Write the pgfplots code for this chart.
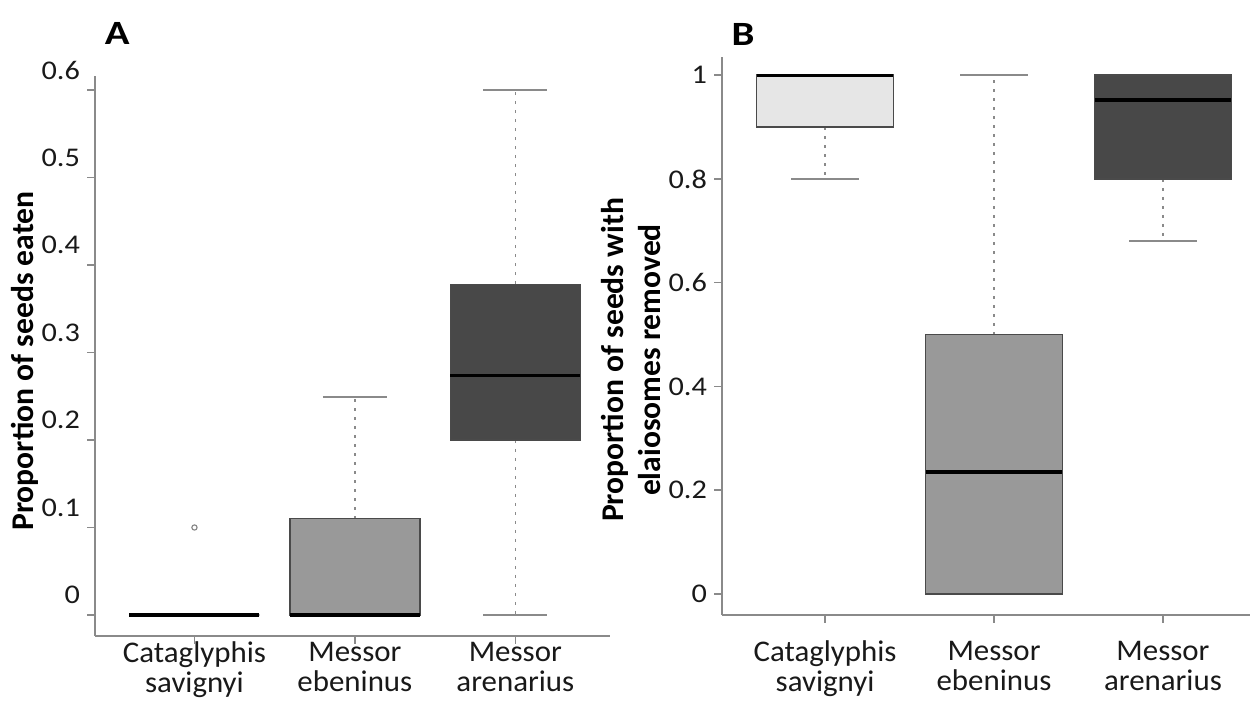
\documentclass[border=0pt]{standalone}
\usepackage{fontspec}
\setmainfont{Carlito}
\newfontfamily\tickfont{Carlito}[FakeStretch=1.12]
\newfontfamily\catfont{Carlito}[FakeStretch=1.03]
\newfontfamily\titlefont{Carlito}[FakeStretch=1.2]
\usepackage{pgfplots}
\pgfplotsset{compat=1.18}
\usepgfplotslibrary{statistics}

\definecolor{axgray}{HTML}{8A8A8A}
\definecolor{boxedge}{HTML}{4A4A4A}
\definecolor{lightfill}{HTML}{E6E6E6}
\definecolor{midfill}{HTML}{999999}
\definecolor{darkfill}{HTML}{484848}

\pgfplotsset{
  mybox/.style={
    boxplot/draw direction=y,
    boxplot/box extend=0.81,
    boxplot/whisker extend=0.40,
    boxplot/every box/.style={draw=boxedge, line width=0.7pt, fill=#1},
    boxplot/every median/.style={black, line width=1.6pt},
    boxplot/draw/lower whisker/.code={%
      \draw[axgray, line width=0.8pt, dash pattern=on 1.5pt off 3pt]
        (boxplot box cs:\pgfplotsboxplotvalue{lower quartile},0.5)
        -- (boxplot box cs:\pgfplotsboxplotvalue{lower whisker},0.5);
      \draw[axgray, line width=0.9pt]
        (boxplot whisker cs:\pgfplotsboxplotvalue{lower whisker},0)
        -- (boxplot whisker cs:\pgfplotsboxplotvalue{lower whisker},1);
    },
    boxplot/draw/upper whisker/.code={%
      \draw[axgray, line width=0.8pt, dash pattern=on 1.5pt off 3pt]
        (boxplot box cs:\pgfplotsboxplotvalue{upper quartile},0.5)
        -- (boxplot box cs:\pgfplotsboxplotvalue{upper whisker},0.5);
      \draw[axgray, line width=0.9pt]
        (boxplot whisker cs:\pgfplotsboxplotvalue{upper whisker},0)
        -- (boxplot whisker cs:\pgfplotsboxplotvalue{upper whisker},1);
    },
    mark=o, mark size=1.3pt, mark options={draw=axgray, line width=0.6pt, solid},
  },
  panel/.style={
    scale only axis,
    axis x line=bottom, axis y line=left,
    axis line style={-, axgray, line width=1pt},
    tick style={axgray, line width=0.8pt},
    tick align=outside,
    major tick length=4pt,
    xtick={1,2,3},
    xticklabels={{Cataglyphis\\savignyi},{Messor\\ebeninus},{Messor\\arenarius}},
    xticklabel style={align=center, font=\catfont\fontsize{15}{15}\selectfont, text=black!90},
    yticklabel style={font=\tickfont\fontsize{13.5}{15}\selectfont, text=black!90},
    /pgf/number format/assume math mode=true,
    /pgf/number format/fixed,
    ylabel style={font=\bfseries\fontsize{15.8}{18.3}\selectfont, rotate=0},
    title style={font=\titlefont\bfseries\fontsize{17}{20}\selectfont, anchor=center, yshift=0pt},
    clip=false,
  },
}

\begin{document}
\begin{tikzpicture}
\useasboundingbox (0,0) rectangle (627.5pt,351pt);

% ---------------- Panel A ----------------
\begin{axis}[panel,
  at={(47.5pt,33pt)}, anchor=south west,
  width=257.5pt, height=280pt,
  xmin=0.38, xmax=3.59,
  ymin=-0.024, ymax=0.616,
  ytick={0,0.1,0.2,0.3,0.4,0.5,0.6},
  yticklabel style={yshift=10pt},
  xticklabel style={yshift=4.5pt},
  ylabel={Proportion of seeds eaten},
  ylabel style={at={(axis description cs:-0.136,0.491)}, anchor=center},
  title={A},
  title style={at={(axis description cs:0.043,1.054)}},
]
\addplot[mybox=white, boxplot prepared={draw position=1,
  lower whisker=0, lower quartile=0, median=0, upper quartile=0, upper whisker=0}]
  coordinates {(0,0.1)};
\addplot[mybox=midfill, boxplot prepared={draw position=2,
  lower whisker=0, lower quartile=0, median=0, upper quartile=0.11, upper whisker=0.249}]
  coordinates {};
\addplot[mybox=darkfill, boxplot prepared={draw position=3,
  lower whisker=0, lower quartile=0.2, median=0.274, upper quartile=0.378, upper whisker=0.6}]
  coordinates {};
\end{axis}

% ---------------- Panel B ----------------
\begin{axis}[panel,
  at={(361pt,43.5pt)}, anchor=south west,
  width=264pt, height=279pt,
  xmin=0.39, xmax=3.515,
  ymin=-0.0405, ymax=1.035,
  ytick={0,0.2,0.4,0.6,0.8,1},
  xticklabel style={yshift=-5.5pt},
  ylabel={Proportion of seeds with\\elaiosomes removed},
  ylabel style={align=center, at={(axis description cs:-0.172,0.457)}, anchor=center},
  title={B},
  title style={at={(axis description cs:0.04,1.0195)}},
]
\addplot[mybox=lightfill, boxplot prepared={draw position=1,
  lower whisker=0.8, lower quartile=0.9, median=1, upper quartile=1, upper whisker=1}]
  coordinates {};
\addplot[mybox=midfill, boxplot prepared={draw position=2,
  lower whisker=0, lower quartile=0, median=0.235, upper quartile=0.5, upper whisker=1}]
  coordinates {};
\addplot[mybox=darkfill, boxplot prepared={draw position=3,
  lower whisker=0.68, lower quartile=0.8, median=0.952, upper quartile=1, upper whisker=1}]
  coordinates {};
\end{axis}
\end{tikzpicture}
\end{document}
